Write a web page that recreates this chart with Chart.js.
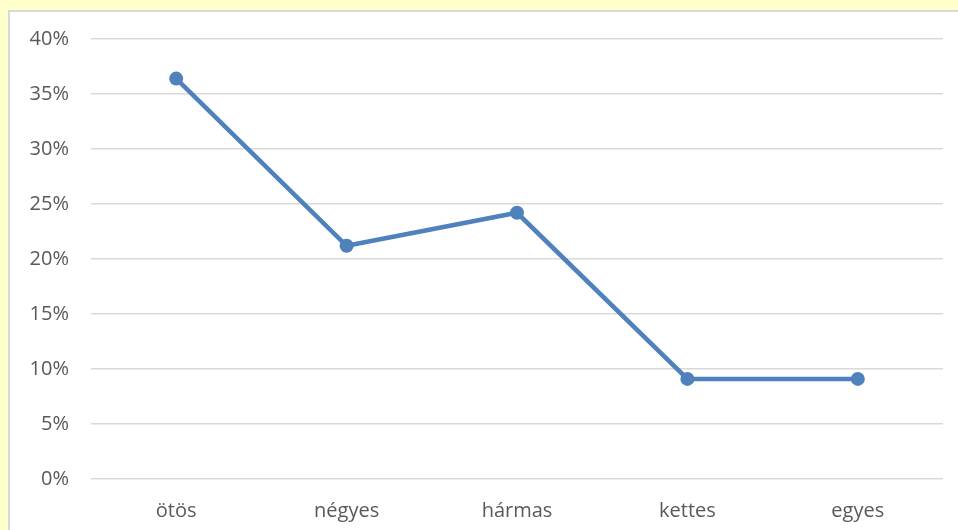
<!DOCTYPE html>
<html>
<head>
<meta charset="utf-8">
<script src="https://cdn.jsdelivr.net/npm/chart.js@4"></script>
<style>
    html, body {
        margin: 0;
        padding: 0;
        background: #ffffcc;
        overflow: hidden;
    }
    .panel {
        position: absolute;
        left: 8px;
        top: 10px;
        width: 960px;
        height: 530px;
        background: #ffffff;
        border-left: 2px solid #d9d9d9;
        border-top: 2px solid #d9d9d9;
    }
    #wrap {
        position: absolute;
        left: 0;
        top: 0;
        width: 958px;
        height: 530px;
    }
</style>
</head>
<body>
<div class="panel"></div>
<div id="wrap"><canvas id="gradeChart"></canvas></div>
<script>
// Grade distribution (share of students per grade)
const grades = ['ötös', 'négyes', 'hármas', 'kettes', 'egyes'];
const shares = [36.4, 21.2, 24.2, 9.1, 9.1];
const yTicks = [0, 5, 10, 15, 20, 25, 30, 35, 40];

const textColor = '#595959';
const lineColor = '#4f81bd';

document.addEventListener('DOMContentLoaded', () => {
    const ctx = document.getElementById('gradeChart');
    new Chart(ctx, {
        type: 'line',
        data: {
            labels: grades,
            datasets: [{
                data: shares,
                borderColor: lineColor,
                backgroundColor: lineColor,
                borderWidth: 4.5,
                pointRadius: 7,
                pointHoverRadius: 7,
                pointBorderWidth: 0,
                tension: 0,
                fill: false
            }]
        },
        options: {
            responsive: true,
            maintainAspectRatio: false,
            animation: false,
            layout: {
                padding: { top: 39, right: 15, left: 0, bottom: 0 }
            },
            plugins: {
                legend: { display: false },
                tooltip: { enabled: false }
            },
            scales: {
                x: {
                    offset: true,
                    grid: { display: false },
                    border: { display: false },
                    ticks: {
                        color: textColor,
                        padding: 12,
                        font: { family: 'Open Sans', size: 20 }
                    },
                    afterFit: (scale) => { scale.height = 51; }
                },
                y: {
                    min: 0,
                    max: 40,
                    afterBuildTicks: (scale) => {
                        scale.ticks = yTicks.map(v => ({ value: v }));
                    },
                    grid: {
                        color: '#d9d9d9',
                        lineWidth: 1.5,
                        drawTicks: false
                    },
                    border: { display: false },
                    ticks: {
                        color: textColor,
                        padding: 22,
                        font: { family: 'Open Sans', size: 20 },
                        callback: (v) => v + '%'
                    },
                    afterFit: (scale) => { scale.width = 91; }
                }
            }
        }
    });
});
</script>
</body>
</html>
